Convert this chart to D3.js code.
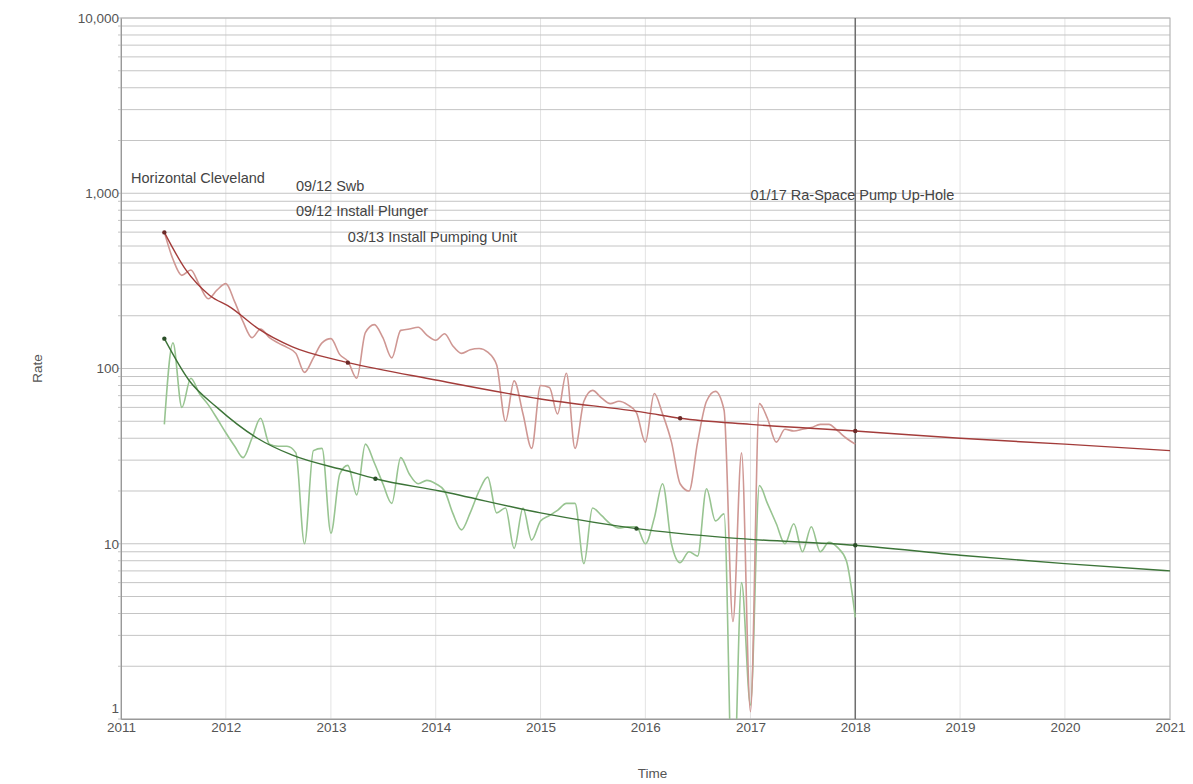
<!DOCTYPE html>
<html>
<head>
<meta charset="utf-8">
<script src="https://cdn.jsdelivr.net/npm/d3@7"></script>
<style>
  body { margin: 0; background: #fff; }
  svg { display: block; font-family: "Liberation Sans", Arial, sans-serif; }
</style>
</head>
<body>
<script>
// monthly rates, Jun 2011 .. Jan 2018
let startMonth = new Date(2011, 5, 1);
let endMonth = new Date(2018, 1, 1);

let redRates = [598, 420, 340, 365, 300, 250, 280, 305, 240, 185,
  150, 168, 150, 140, 132, 122, 95, 115, 140, 148,
  120, 110, 88, 160, 178, 150, 115, 165, 168, 172,
  155, 145, 158, 135, 122, 128, 130, 124, 105, 50,
  85, 55, 35, 80, 78, 55, 94, 35, 65, 75,
  68, 63, 65, 62, 56, 38, 72, 55, 38, 22,
  20, 38, 65, 74, 58, 3.6, 33, 1.1, 63, 52,
  38, 45, 44, 45, 46, 48, 48, 44, 40, 37];

let greenRates = [48, 140, 60, 88, 72, 62, 52, 43, 36, 31,
  40, 52, 37, 36, 36, 33, 10, 34, 35, 11.5,
  25, 28, 19, 37, 29, 22, 17, 31, 25, 22,
  23, 22, 20, 15, 12, 15, 20, 24, 15, 16,
  9.4, 16, 10.5, 13.5, 14.5, 15.5, 17, 17, 7.7, 16,
  14.5, 13, 12.3, 12.5, 12.5, 10, 14, 22, 10, 7.8,
  9, 8.5, 20.6, 13.5, 14.8, 0.3, 6, 1.2, 21.5, 17,
  13, 10, 13, 9, 12.5, 9, 10.2, 9.5, 8, 3.8];

// decline-curve fits, [date, rate]
let redFit = [["2011-06-01", 598], ["2011-08-15", 365], ["2011-11-05", 262],
  ["2012-01-20", 222], ["2012-04-20", 170], ["2012-08-20", 133],
  ["2013-01-20", 112], ["2013-03-01", 108], ["2014-01-01", 86],
  ["2015-01-01", 67], ["2016-01-01", 56], ["2016-05-01", 52],
  ["2017-01-01", 48], ["2018-01-01", 44], ["2019-01-01", 40],
  ["2020-01-01", 37], ["2021-01-01", 34]];
let greenFit = [["2011-06-01", 148], ["2011-08-25", 86], ["2011-12-01", 60],
  ["2012-04-20", 40], ["2012-08-20", 32], ["2013-03-01", 26],
  ["2013-06-05", 23.5], ["2014-01-15", 20], ["2015-01-01", 15],
  ["2015-12-01", 12.2], ["2016-10-20", 10.8], ["2018-01-01", 9.8],
  ["2019-01-01", 8.6], ["2020-01-01", 7.7], ["2021-01-01", 7]];
let redMarks = ["2011-06-01", "2013-03-01", "2016-05-01", "2018-01-01"];
let greenMarks = ["2011-06-01", "2013-06-05", "2015-12-01", "2018-01-01"];

let yTicks = [1, 10, 100, 1000, 10000];
let noteTexts = ["Horizontal Cleveland", "09/12 Swb", "09/12 Install Plunger",
  "03/13 Install Pumping Unit", "01/17 Ra-Space Pump Up-Hole"];
let noteDates = ["2011-02-05", "2012-09-01", "2012-09-01", "2013-03-01", "2017-01-01"];
let noteRates = [1230, 1100, 790, 560, 975];
let cutoffDate = "2018-01-01";

let width = 1193;
let height = 784;
let margin = { top: 18, right: 23, bottom: 65, left: 121 };

let parse = d3.timeParse("%Y-%m-%d");
let months = d3.timeMonth.range(startMonth, endMonth);

let x = d3.scaleTime()
  .domain([new Date(2011, 0, 1), new Date(2021, 0, 1)])
  .range([margin.left, width - margin.right]);
let y = d3.scaleLog()
  .domain([1, 10000])
  .range([height - margin.bottom, margin.top]);

let svg = d3.select("body").append("svg")
  .attr("width", width)
  .attr("height", height);

svg.append("clipPath").attr("id", "plot")
  .append("rect")
  .attr("x", margin.left).attr("y", margin.top)
  .attr("width", width - margin.left - margin.right)
  .attr("height", height - margin.top - margin.bottom);

// grid
svg.append("g")
  .selectAll("line")
  .data(x.ticks(d3.timeYear.every(1)))
  .join("line")
  .attr("x1", d => x(d)).attr("x2", d => x(d))
  .attr("y1", margin.top).attr("y2", height - margin.bottom)
  .attr("stroke", "#e3e3e3");

svg.append("g")
  .selectAll("line")
  .data(y.ticks())
  .join("line")
  .attr("x1", margin.left - 3).attr("x2", width - margin.right)
  .attr("y1", d => y(d)).attr("y2", d => y(d))
  .attr("stroke", "#c4c4c4");

// frame
svg.append("rect")
  .attr("x", margin.left).attr("y", margin.top)
  .attr("width", width - margin.left - margin.right)
  .attr("height", height - margin.top - margin.bottom)
  .attr("fill", "none").attr("stroke", "#b5b5b5");

// axes
let yAxis = svg.append("g")
  .attr("transform", `translate(${margin.left},0)`)
  .call(d3.axisLeft(y).tickValues(yTicks).tickFormat(d3.format(",")).tickSize(0).tickPadding(2));
yAxis.select(".domain").attr("stroke", "#999");
yAxis.selectAll("text").attr("font-size", 13.5).attr("fill", "#555")
  .attr("font-family", "Liberation Sans, Arial, sans-serif");
yAxis.selectAll(".tick").filter(d => d === 1).select("text").attr("dy", "-0.5em");

let xAxis = svg.append("g")
  .attr("transform", `translate(0,${height - margin.bottom})`)
  .call(d3.axisBottom(x).ticks(d3.timeYear.every(1)).tickFormat(d3.timeFormat("%Y")).tickSize(0).tickPadding(3));
xAxis.select(".domain").attr("stroke", "#999");
xAxis.selectAll("text").attr("font-size", 13.5).attr("fill", "#555")
  .attr("font-family", "Liberation Sans, Arial, sans-serif");

// forecast cutoff line
svg.append("line")
  .attr("x1", x(parse(cutoffDate))).attr("x2", x(parse(cutoffDate)))
  .attr("y1", margin.top).attr("y2", height - margin.bottom)
  .attr("stroke", "#6f6f6f").attr("stroke-width", 1.5);

// data lines
let rateLine = d3.line()
  .x((d, i) => x(months[i]))
  .y(d => y(d))
  .curve(d3.curveMonotoneX);

let plot = svg.append("g").attr("clip-path", "url(#plot)");

plot.append("path")
  .attr("d", rateLine(greenRates))
  .attr("fill", "none").attr("stroke", "#98c491").attr("stroke-width", 1.6);
plot.append("path")
  .attr("d", rateLine(redRates))
  .attr("fill", "none").attr("stroke", "#cf9793").attr("stroke-width", 1.6);

let fitLine = d3.line()
  .x(d => x(parse(d[0])))
  .y(d => y(d[1]))
  .curve(d3.curveMonotoneX);

plot.append("path")
  .attr("d", fitLine(redFit))
  .attr("fill", "none").attr("stroke", "#a33c3a").attr("stroke-width", 1.4);
plot.append("path")
  .attr("d", fitLine(greenFit))
  .attr("fill", "none").attr("stroke", "#3c7438").attr("stroke-width", 1.4);

plot.append("g")
  .selectAll("circle")
  .data(redFit.filter(d => redMarks.includes(d[0])))
  .join("circle")
  .attr("cx", d => x(parse(d[0]))).attr("cy", d => y(d[1]))
  .attr("r", 2.2).attr("fill", "#6b2a28");
plot.append("g")
  .selectAll("circle")
  .data(greenFit.filter(d => greenMarks.includes(d[0])))
  .join("circle")
  .attr("cx", d => x(parse(d[0]))).attr("cy", d => y(d[1]))
  .attr("r", 2.2).attr("fill", "#2b4f28");

// event notes
svg.append("g")
  .selectAll("text")
  .data(noteTexts)
  .join("text")
  .attr("x", (d, i) => x(parse(noteDates[i])))
  .attr("y", (d, i) => y(noteRates[i]))
  .attr("dy", "0.35em")
  .attr("font-size", 14.5)
  .attr("fill", "#444")
  .text(d => d);

// axis titles
svg.append("text")
  .attr("x", (margin.left + width - margin.right) / 2 + 7)
  .attr("y", 778)
  .attr("text-anchor", "middle")
  .attr("font-size", 13.5).attr("fill", "#555")
  .text("Time");

svg.append("text")
  .attr("transform", `translate(42,${y(100)}) rotate(-90)`)
  .attr("text-anchor", "middle")
  .attr("font-size", 13.5).attr("fill", "#555")
  .text("Rate");
</script>
</body>
</html>
